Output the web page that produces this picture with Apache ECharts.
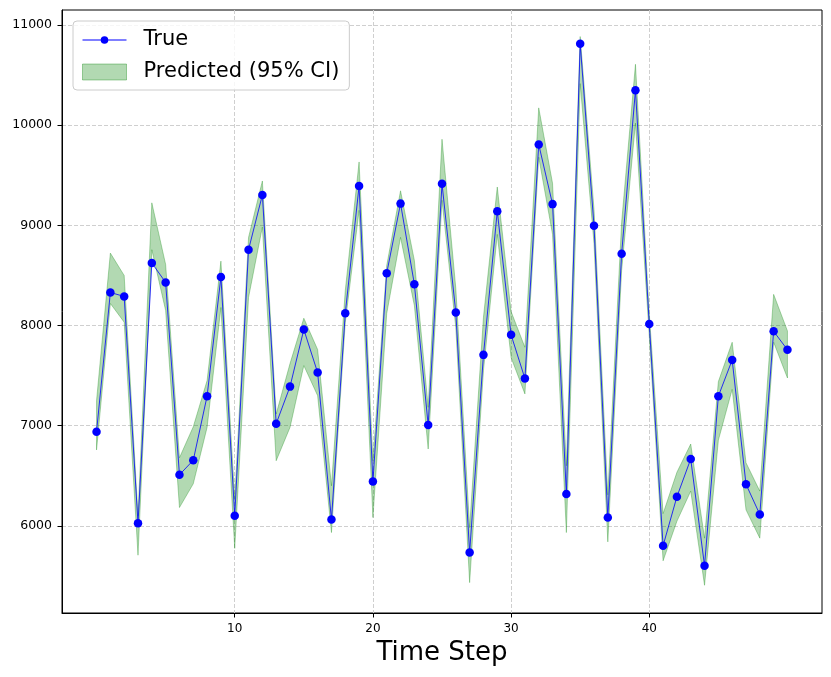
<!DOCTYPE html>
<html>
<head>
<meta charset="utf-8">
<script src="https://cdn.jsdelivr.net/npm/echarts@6/dist/echarts.min.js"></script>
<style>
  html, body { margin: 0; padding: 0; background: #fff; }
  #chart { width: 831px; height: 677px; }
</style>
</head>
<body>
<div id="chart"></div>
<script>
// time steps 0..50
var steps = [];
for (var i = 0; i <= 50; i++) steps.push(i);

var trueValues = [
  6940, 8330, 8290, 6025, 8625, 8430, 6510, 6655, 7295, 8485,
  6100, 8757, 9303, 7020, 7390, 7960, 7530, 6063, 8123, 9392,
  6443, 8523, 9217, 8413, 7007, 9415, 8130, 5733, 7707, 9142,
  7907, 7471, 9808, 9212, 6317, 10813, 8995, 6084, 8717, 10350,
  8015, 5802, 6291, 6667, 5602, 7295, 7656, 6415, 6114, 7942,
  7758
];

var upperCI = [
  7250, 8723, 8500, 6100, 9225, 8610, 6680, 6990, 7450, 8643,
  6270, 8880, 9443, 7117, 7620, 8073, 7760, 6400, 8350, 9633,
  6650, 8600, 9345, 8650, 7183, 9860, 8370, 5983, 8083, 9383,
  8140, 7783, 10173, 9420, 6600, 10885, 9160, 6310, 9030, 10608,
  8118, 6122, 6535, 6817, 5877, 7440, 7833, 6630, 6347, 8311,
  7946
];

var lowerCI = [
  6758, 8220, 8033, 5707, 8757, 8150, 6183, 6420, 6983, 8180,
  5775, 8280, 8983, 6650, 6983, 7600, 7300, 5933, 8030, 9150,
  6083, 8120, 8880, 8200, 6767, 9250, 7980, 5433, 7550, 8910,
  7680, 7317, 9680, 8910, 5933, 10415, 8820, 5840, 8550, 10020,
  7895, 5651, 6046, 6347, 5407, 6855, 7363, 6160, 5877, 7833,
  7476
];

var xTicks = [10, 20, 30, 40];
var yTicks = [6000, 7000, 8000, 9000, 10000, 11000];

var FONT = 'DejaVu Sans';
var BAND = 'rgba(0,128,0,0.3)';
var gridLine = { show: true, lineStyle: { color: '#cfcfcf', width: 1, type: [4, 2] } };

var myChart = echarts.init(document.getElementById('chart'), null, { renderer: 'canvas' });

// the CI band as one polygon: upper edge forward, lower edge back
function renderBand(params, api) {
  if (params.dataIndex !== 0) return;
  var pts = [];
  for (var k = 0; k < steps.length; k++) pts.push(api.coord([steps[k], upperCI[k]]));
  for (var j = steps.length - 1; j >= 0; j--) pts.push(api.coord([steps[j], lowerCI[j]]));
  return {
    type: 'polygon',
    shape: { points: pts },
    style: { fill: BAND, stroke: BAND, lineWidth: 1 }
  };
}

var option = {
  animation: false,
  backgroundColor: '#fff',
  textStyle: { fontFamily: FONT },
  grid: {
    left: 62, right: 9, top: 10, bottom: 64,
    show: true, borderColor: '#000', borderWidth: 1, backgroundColor: 'transparent'
  },
  legend: {
    orient: 'vertical',
    left: 73, top: 21,
    padding: [8, 10, 7, 9],
    itemWidth: 44, itemHeight: 16, itemGap: 10,
    backgroundColor: 'rgba(255,255,255,0.8)',
    borderColor: '#cccccc', borderWidth: 1, borderRadius: 4,
    textStyle: { fontFamily: FONT, fontSize: 21, color: '#000', lineHeight: 22, padding: [0, 0, 0, 12] },
    data: [
      {
        name: 'True',
        icon: 'path://M0,7.6H44V8.4H0Z M25.8,8A3.8,3.8 0 1 1 18.2,8A3.8,3.8 0 1 1 25.8,8Z',
        itemStyle: { color: '#0000ff' }
      },
      {
        name: 'Predicted (95% CI)',
        icon: 'rect',
        itemStyle: { color: BAND, borderColor: 'rgba(0,128,0,0.35)', borderWidth: 1 }
      }
    ]
  },
  xAxis: {
    type: 'value',
    min: -2.5, max: 52.5,
    name: 'Time Step', nameLocation: 'middle', nameGap: 27,
    nameTextStyle: { fontFamily: FONT, fontSize: 26, color: '#000' },
    axisLine: { show: true, onZero: false, lineStyle: { color: '#000', width: 1 } },
    axisTick: { show: true, inside: false, length: 4.5, customValues: xTicks, lineStyle: { color: '#000' } },
    axisLabel: { customValues: xTicks, margin: 10, fontFamily: FONT, fontSize: 12, color: '#000' },
    splitLine: gridLine
  },
  yAxis: {
    type: 'value',
    min: 5130, max: 11150,
    axisLine: { show: true, onZero: false, lineStyle: { color: '#000', width: 1 } },
    axisTick: { show: true, inside: false, length: 4.5, customValues: yTicks, lineStyle: { color: '#000' } },
    axisLabel: {
      customValues: yTicks, margin: 10, fontFamily: FONT, fontSize: 12.5, color: '#000',
      formatter: function (v) { return String(v); }
    },
    splitLine: gridLine
  },
  series: [
    {
      name: 'Predicted (95% CI)',
      type: 'custom',
      silent: true,
      itemStyle: { color: BAND },
      renderItem: renderBand,
      data: steps.map(function (s, i) { return [s, lowerCI[i], upperCI[i]]; }),
      encode: { x: 0, y: [1, 2] },
      z: 2
    },
    {
      name: 'True',
      type: 'line',
      symbol: 'circle',
      symbolSize: 8.5,
      itemStyle: { color: '#0000ff' },
      lineStyle: { color: 'rgba(0,0,255,0.8)', width: 1 },
      data: steps.map(function (s, i) { return [s, trueValues[i]]; }),
      z: 3
    }
  ]
};

myChart.setOption(option);
</script>
</body>
</html>
